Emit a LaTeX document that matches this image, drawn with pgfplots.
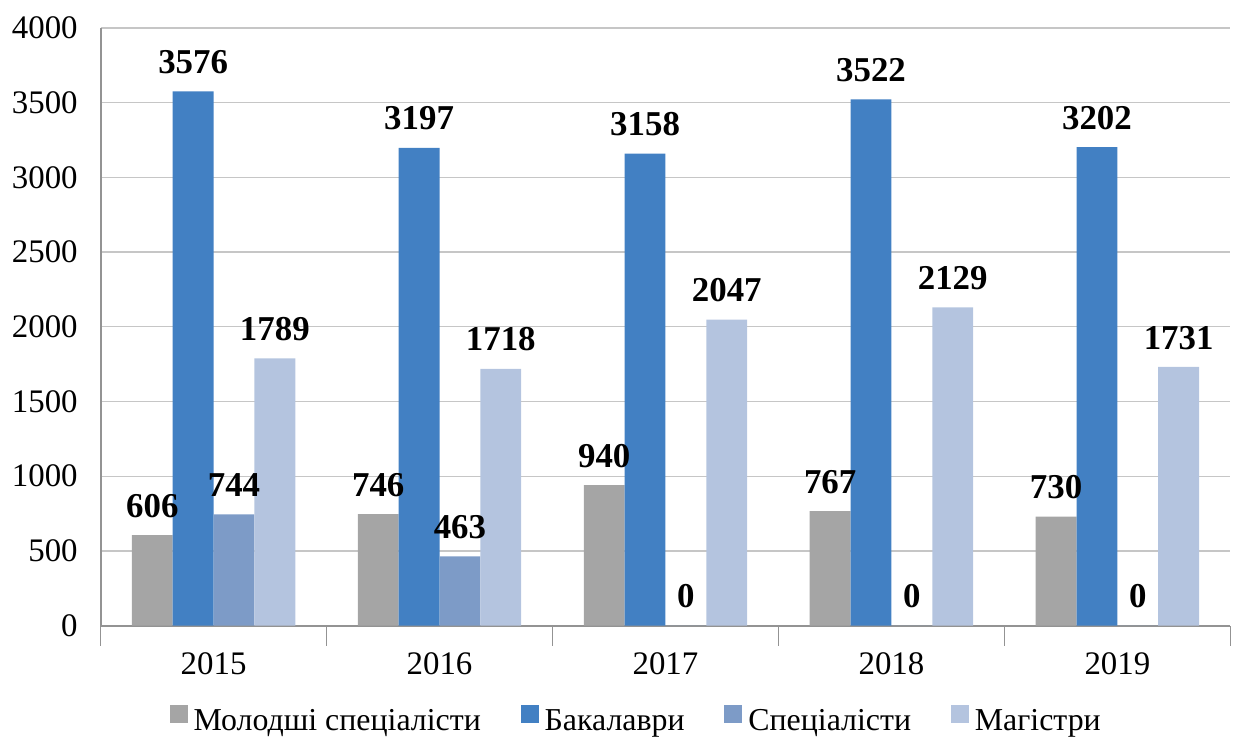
\documentclass[border=0pt]{standalone}
\usepackage{pgfplots}
\pgfplotsset{compat=1.18}
\usepackage{fontspec}
\setmainfont{Liberation Serif}

\definecolor{cMol}{HTML}{A5A5A5}
\definecolor{cBak}{HTML}{4280C3}
\definecolor{cSpec}{HTML}{7D9BC7}
\definecolor{cMag}{HTML}{B4C4DF}

\begin{document}
\begin{tikzpicture}
\begin{axis}[
    at={(0,0)}, anchor=south west,
    scale only axis,
    width=567pt, height=300pt,
    ybar=0pt, bar width=20.5pt,
    xmin=-0.5, xmax=4.5,
    ymin=0, ymax=4000,
    ytick={0,500,...,4000},
    xtick={0,1,2,3,4},
    xticklabels={2015,2016,2017,2018,2019},
    extra x ticks={-0.5,0.5,1.5,2.5,3.5,4.5},
    extra x tick labels={},
    extra x tick style={major tick length=10pt, tick align=outside,
        tick style={draw=gray!85, line width=0.8pt}},
    major tick length=0pt,
    axis x line*=bottom, axis y line*=left,
    axis line style={draw=gray!85, line width=0.9pt, -},
    ymajorgrids, grid style={draw=gray!45, line width=0.7pt},
    /pgf/number format/.cd, 1000 sep={}, assume math mode=true, /pgfplots/.cd,
    tick label style={font=\fontsize{16.5}{19}\selectfont},
    yticklabel style={xshift=-8pt},
    xticklabel style={yshift=-10pt},
    nodes near coords,
    every node near coord/.append style={font=\fontsize{17.5}{20}\selectfont\bfseries,
        anchor=base, yshift=9pt, text=black},
    legend style={at={(0.475,-0.16)}, anchor=center, draw=none, fill=none,
        legend columns=4, font=\rmfamily\fontsize{16}{19}\selectfont,
        /tikz/every odd column/.append style={column sep=1pt},
        /tikz/every even column/.append style={column sep=18pt}},
    legend image code/.code={\fill[#1] (0pt,-1pt) rectangle (9pt,8pt);},
]
\addplot[fill=cMol, draw=none] coordinates {(0,606) (1,746) (2,940) (3,767) (4,730)};
\addplot[fill=cBak, draw=none] coordinates {(0,3576) (1,3197) (2,3158) (3,3522) (4,3202)};
\addplot[fill=cSpec, draw=none] coordinates {(0,744) (1,463) (2,0) (3,0) (4,0)};
\addplot[fill=cMag, draw=none] coordinates {(0,1789) (1,1718) (2,2047) (3,2129) (4,1731)};
\legend{Молодші спеціалісти, Бакалаври, Спеціалісти, Магістри}
\end{axis}
\path (-50.5pt,-56pt) rectangle (568pt,314pt);
\end{tikzpicture}
\end{document}
